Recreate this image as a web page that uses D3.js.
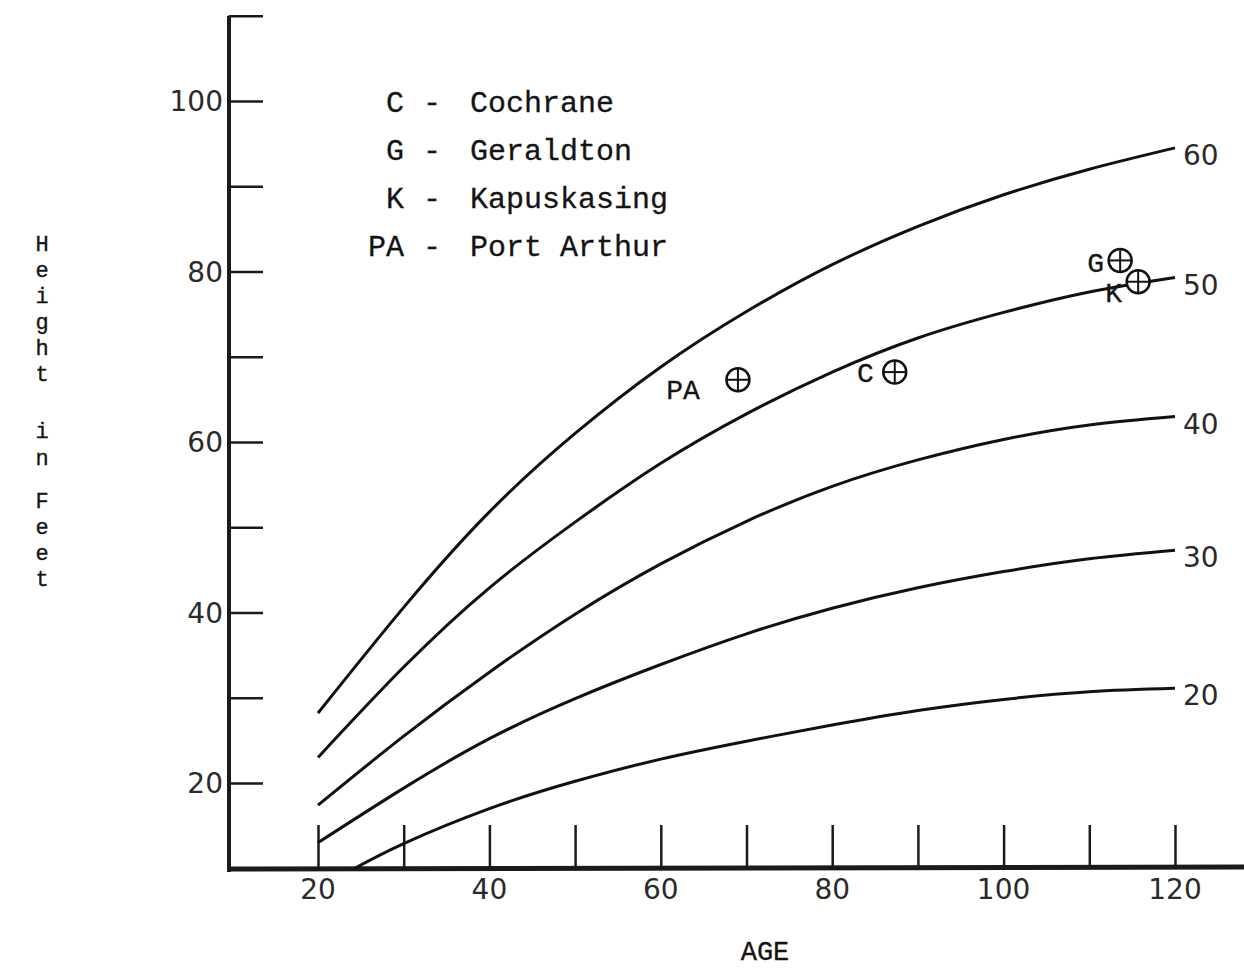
<!DOCTYPE html>
<html lang="en">
<head>
<meta charset="utf-8">
<title>Height over Age by Site Index</title>
<script src="https://cdnjs.cloudflare.com/ajax/libs/d3/7.8.5/d3.min.js"></script>
<style>
  body { margin: 0; background: #fff; }
  svg text { fill: #141414; }
  .mono { font-family: "Liberation Mono", "DejaVu Sans Mono", monospace; stroke: #141414; stroke-width: 0.3px; }
  .num { font-family: "DejaVu Sans", sans-serif; font-weight: 400; fill: #2a2a2a; }
</style>
</head>
<body>
<div id="viz"></div>
<script>
// site index curves: height (ft) by age (years)
const ages = [20, 30, 40, 50, 60, 70, 80, 90, 100, 110, 120];
const si60 = [28.2, 40.6, 51.8, 61.0, 68.8, 75.3, 80.8, 85.3, 89.0, 92.0, 94.5];
const si50 = [23.0, 33.6, 42.9, 50.6, 57.5, 63.3, 68.2, 72.2, 75.2, 77.6, 79.3];
const si40 = [17.4, 25.5, 33.0, 39.8, 45.7, 50.7, 54.8, 57.9, 60.3, 62.0, 63.0];
const si30 = [13.0, 19.4, 25.2, 29.9, 33.9, 37.5, 40.5, 42.9, 44.8, 46.3, 47.3];
const ages20 = [24.3, 30, 40, 50, 60, 70, 80, 90, 100, 110, 120];
const si20 = [10.0, 12.9, 17.0, 20.2, 22.8, 24.9, 26.8, 28.5, 29.8, 30.7, 31.1];
const curveLabels = ["60", "50", "40", "30", "20"];

// plotted locations
const plotCodes = ["PA", "C", "G", "K"];
const plotAges = [69.0, 87.3, 113.6, 115.7];
const plotHeights = [67.3, 68.2, 81.3, 78.8];

// legend
const legendCodes = ["C", "G", "K", "PA"];
const legendNames = ["Cochrane", "Geraldton", "Kapuskasing", "Port Arthur"];

// axis ticks
const xTickLabels = [20, 40, 60, 80, 100, 120];
const yTickLabels = [20, 40, 60, 80, 100];
const yAxisTitle = "Height in Feet";
const xAxisTitle = "AGE";

const width = 1244, height = 970;
const axisX = 229, axisY = 869;

const x = d3.scaleLinear().domain([20, 120]).range([318, 1175]);
const y = d3.scaleLinear().domain([20, 100]).range([783, 101]);

const svg = d3.select("#viz").append("svg")
  .attr("width", width)
  .attr("height", height);

// y axis line + ticks
svg.append("line")
  .attr("x1", axisX).attr("x2", axisX)
  .attr("y1", y(110)).attr("y2", axisY + 3)
  .attr("stroke", "#1a1a1a").attr("stroke-width", 4);

const yAxis = svg.append("g")
  .attr("transform", `translate(${axisX},0)`)
  .call(d3.axisRight(y).tickValues(d3.range(20, 111, 10)).tickSize(34).tickFormat(""));
yAxis.select(".domain").remove();
yAxis.selectAll(".tick line").attr("stroke", "#1a1a1a").attr("stroke-width", 2.5);

svg.append("g").selectAll("text")
  .data(yTickLabels)
  .join("text")
    .attr("class", "num")
    .attr("x", axisX - 6)
    .attr("y", d => y(d))
    .attr("dy", "0.36em")
    .attr("text-anchor", "end")
    .attr("font-size", 28)
    .text(d => d);

// x axis line + ticks
svg.append("line")
  .attr("x1", axisX - 2).attr("x2", width)
  .attr("y1", axisY).attr("y2", axisY - 2)
  .attr("stroke", "#1a1a1a").attr("stroke-width", 5);

const xAxis = svg.append("g")
  .attr("transform", `translate(0,${axisY})`)
  .call(d3.axisTop(x).tickValues(d3.range(20, 121, 10)).tickSize(44).tickFormat(""));
xAxis.select(".domain").remove();
xAxis.selectAll(".tick line").attr("stroke", "#1a1a1a").attr("stroke-width", 2.5);

svg.append("g").selectAll("text")
  .data(xTickLabels)
  .join("text")
    .attr("class", "num")
    .attr("x", d => x(d))
    .attr("y", axisY + 20)
    .attr("dy", "0.36em")
    .attr("text-anchor", "middle")
    .attr("font-size", 28)
    .text(d => d);

// curves
const series = [
  { label: curveLabels[0], ages: ages, values: si60 },
  { label: curveLabels[1], ages: ages, values: si50 },
  { label: curveLabels[2], ages: ages, values: si40 },
  { label: curveLabels[3], ages: ages, values: si30 },
  { label: curveLabels[4], ages: ages20, values: si20 }
];

const line = d3.line()
  .x(d => x(d[0]))
  .y(d => y(d[1]))
  .curve(d3.curveNatural);

svg.append("g").selectAll("path")
  .data(series)
  .join("path")
    .attr("d", s => line(s.ages.map((a, i) => [a, s.values[i]])))
    .attr("fill", "none")
    .attr("stroke", "#111")
    .attr("stroke-width", 3);

svg.append("g").selectAll("text")
  .data(series)
  .join("text")
    .attr("class", "num")
    .attr("x", s => x(s.ages[s.ages.length - 1]) + 8)
    .attr("y", s => y(s.values[s.values.length - 1]) + 7)
    .attr("dy", "0.36em")
    .attr("font-size", 28)
    .text(s => s.label);

// plotted locations
const labelOffset = { PA: [-38, 9], C: [-21, 0], G: [-16, 1], K: [-16, 10] };
const pts = svg.append("g").selectAll("g")
  .data(plotCodes.map((c, i) => ({ code: c, age: plotAges[i], h: plotHeights[i] })))
  .join("g")
    .attr("transform", d => `translate(${x(d.age)},${y(d.h)})`);

pts.append("circle")
  .attr("r", 11.5)
  .attr("fill", "#fff")
  .attr("stroke", "#111")
  .attr("stroke-width", 2.5);
pts.append("line")
  .attr("x1", -11.5).attr("x2", 11.5)
  .attr("stroke", "#111").attr("stroke-width", 2);
pts.append("line")
  .attr("y1", -11.5).attr("y2", 11.5)
  .attr("stroke", "#111").attr("stroke-width", 2);
pts.append("text")
  .attr("class", "mono")
  .attr("x", d => labelOffset[d.code][0])
  .attr("y", d => labelOffset[d.code][1])
  .attr("dy", "0.36em")
  .attr("text-anchor", "end")
  .attr("font-size", 28)
  .text(d => d.code);

// legend
const legend = svg.append("g").attr("class", "mono").attr("font-size", 30);
legendCodes.forEach((c, i) => {
  const ly = 101 + i * 48;
  legend.append("text")
    .attr("x", 404).attr("y", ly).attr("dy", "0.36em")
    .attr("text-anchor", "end").text(c);
  legend.append("text")
    .attr("x", 432).attr("y", ly).attr("dy", "0.36em")
    .attr("text-anchor", "middle").text("-");
  legend.append("text")
    .attr("x", 470).attr("y", ly).attr("dy", "0.36em")
    .text(legendNames[i]);
});

// y axis title, stacked letters
const letterY = [243, 269, 295, 321, 347, 373, null, 430, 457, null, 500, 526, 552, 578];
svg.append("g").attr("class", "mono").attr("font-size", 22)
  .selectAll("text")
  .data(yAxisTitle.split("").map((ch, i) => ({ ch, yy: letterY[i] })).filter(d => d.ch !== " "))
  .join("text")
    .attr("x", 42)
    .attr("y", d => d.yy)
    .attr("dy", "0.36em")
    .attr("text-anchor", "middle")
    .text(d => d.ch);

svg.append("text")
  .attr("class", "mono")
  .attr("x", 765)
  .attr("y", 950)
  .attr("dy", "0.36em")
  .attr("text-anchor", "middle")
  .attr("font-size", 27)
  .text(xAxisTitle);
</script>
</body>
</html>
